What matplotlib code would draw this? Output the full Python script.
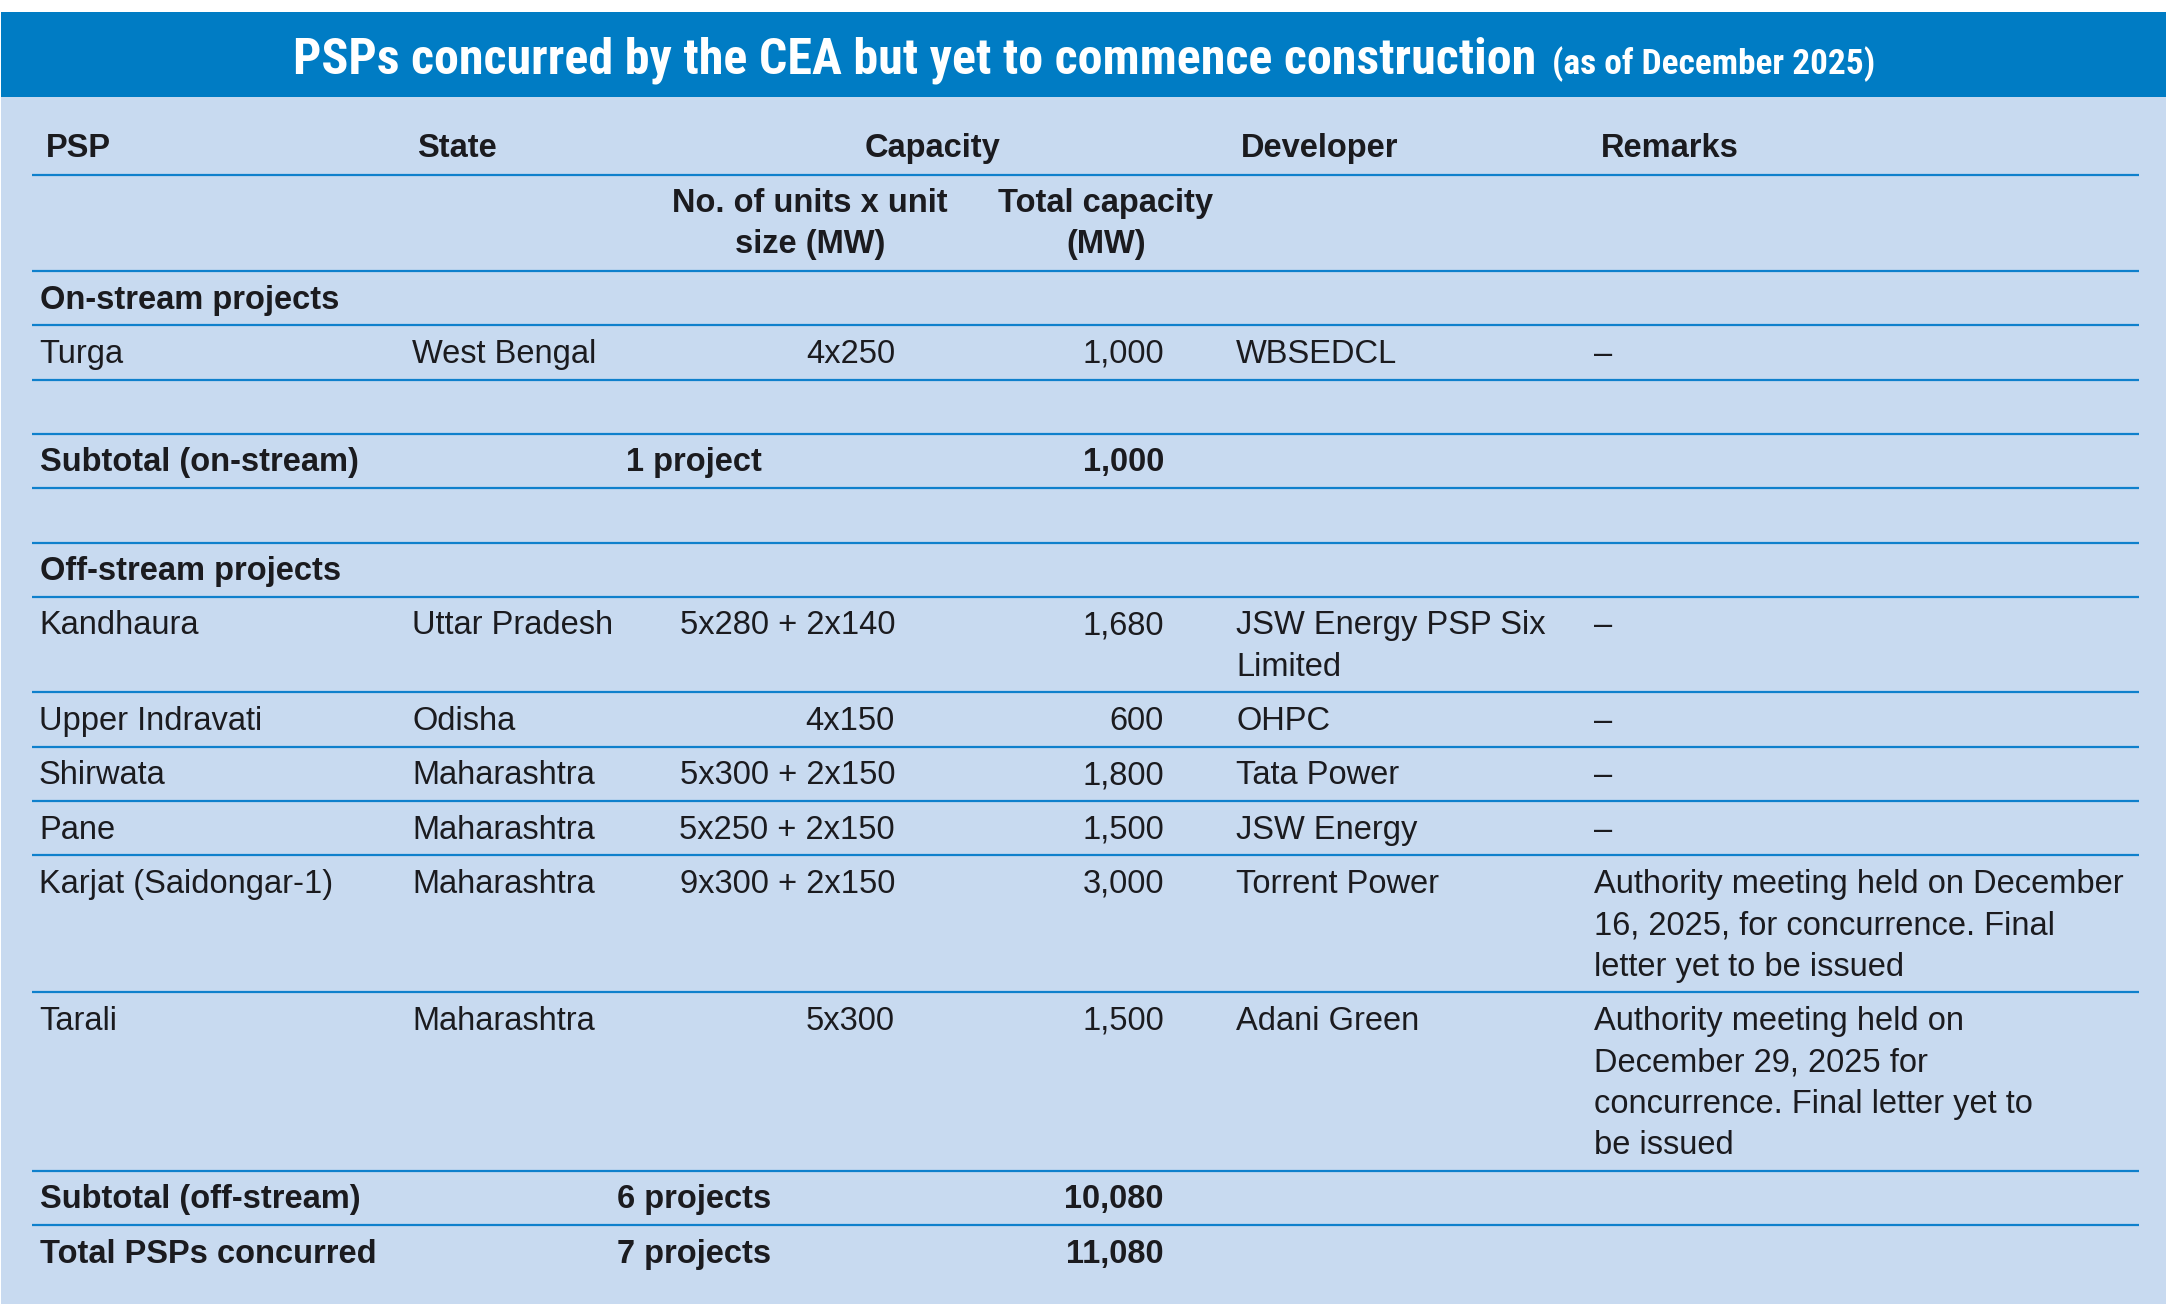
import matplotlib
matplotlib.use("Agg")
import matplotlib.pyplot as plt
from matplotlib import font_manager
from matplotlib.patches import Rectangle

title_main = "PSPs concurred by the CEA but yet to commence construction"
title_sub = "(as of December 2025)"

col_headers = ["PSP", "State", "Capacity", "Developer", "Remarks"]
cap_subheaders = ["No. of units x unit\nsize (MW)", "Total capacity\n(MW)"]

on_psp = ["Turga"]
on_state = ["West Bengal"]
on_units = ["4x250"]
on_mw = [1000]
on_dev = ["WBSEDCL"]
on_remarks = ["–"]

off_psp = ["Kandhaura", "Upper Indravati", "Shirwata", "Pane", "Karjat (Saidongar-1)", "Tarali"]
off_state = ["Uttar Pradesh", "Odisha", "Maharashtra", "Maharashtra", "Maharashtra", "Maharashtra"]
off_units = ["5x280 + 2x140", "4x150", "5x300 + 2x150", "5x250 + 2x150", "9x300 + 2x150", "5x300"]
off_mw = [1680, 600, 1800, 1500, 3000, 1500]
off_dev = ["JSW Energy PSP Six\nLimited", "OHPC", "Tata Power", "JSW Energy", "Torrent Power", "Adani Green"]
off_remarks = ["–", "–", "–", "–",
               "Authority meeting held on December\n16, 2025, for concurrence. Final\nletter yet to be issued",
               "Authority meeting held on\nDecember 29, 2025 for\nconcurrence. Final letter yet to\nbe issued"]

# ---- style ----
band_col = "#007cc4"
panel_col = "#c8daf0"
rule_col = "#0f80cc"
ink = "#1b1b1f"
body_font = "Liberation Sans"
fs = 23.5

installed = {f.name for f in font_manager.fontManager.ttflist}
narrow = next((f for f in ["Liberation Sans Narrow", "Roboto Condensed", "DejaVu Sans Condensed"]
               if f in installed), "Liberation Sans")

W, H = 2168, 1308
fig = plt.figure(figsize=(W / 100, H / 100), dpi=100)
ax = fig.add_axes([0, 0, 1, 1])
ax.set_xlim(0, W)
ax.set_ylim(H, 0)
ax.axis("off")

ax.add_patch(Rectangle((1, 12), 2165, 85, color=band_col, lw=0))
ax.add_patch(Rectangle((1, 97), 2165, 1207, color=panel_col, lw=0))

# title, centred as a whole
t1 = ax.text(0, 74, title_main, color="white", fontsize=36, fontweight="bold",
             family=narrow, va="baseline", ha="left")
t2 = ax.text(0, 74, title_sub, color="white", fontsize=25.5, fontweight="bold",
             family=narrow, va="baseline", ha="left")
fig.canvas.draw()
r = fig.canvas.get_renderer()
w1 = t1.get_window_extent(r).width
w2 = t2.get_window_extent(r).width
gap = 16
x0 = W / 2 - (w1 + gap + w2) / 2
t1.set_x(x0)
t2.set_x(x0 + w1 + gap)

# column anchors
x_psp, x_state, x_units_r, x_mw_r, x_dev, x_rem = 39, 412, 895, 1164, 1236, 1594
x_units_c, x_mw_c, x_cap_c, x_count_c = 810, 1106, 933, 694
line_x0, line_x1 = 32, 2139
row_h, line_h, base_off = 54.3, 41.4, 37.5


def txt(x, y, s, ha="left", bold=False):
    # one text per line so every line sits on its own baseline
    for j, part in enumerate(s.split("\n")):
        ax.text(x, y + j * line_h, part, fontsize=fs, family=body_font, color=ink,
                fontweight="bold" if bold else "normal", ha=ha, va="baseline")


# header rows
hx = [46, 417, x_cap_c, 1241, 1601]
for x, s in zip(hx, col_headers):
    txt(x, 157, s, ha="center" if s == "Capacity" else "left", bold=True)
ax.hlines(175, line_x0, line_x1, color=rule_col, lw=1.6)
txt(x_units_c, 212, cap_subheaders[0], ha="center", bold=True)
txt(x_mw_c, 212, cap_subheaders[1], ha="center", bold=True)

# body rows: (kind, payload)
rows = [("section", "On-stream projects")]
for i in range(len(on_psp)):
    rows.append(("data", (on_psp[i], on_state[i], on_units[i], on_mw[i], on_dev[i], on_remarks[i])))
rows.append(("blank", None))
rows.append(("total", ("Subtotal (on-stream)", f"{len(on_psp)} project", sum(on_mw))))
rows.append(("blank", None))
rows.append(("section", "Off-stream projects"))
for i in range(len(off_psp)):
    rows.append(("data", (off_psp[i], off_state[i], off_units[i], off_mw[i], off_dev[i], off_remarks[i])))
rows.append(("total", ("Subtotal (off-stream)", f"{len(off_psp)} projects", sum(off_mw))))
rows.append(("total", ("Total PSPs concurred", f"{len(on_psp) + len(off_psp)} projects",
                       sum(on_mw) + sum(off_mw))))

top = 271
ax.hlines(top, line_x0, line_x1, color=rule_col, lw=1.6)
for k, (kind, p) in enumerate(rows):
    y = top + base_off
    n = 1
    if kind == "section":
        txt(x_psp + 1, y, p, bold=True)
    elif kind == "data":
        psp, st, un, mw, dev, rem = p
        n = max(dev.count("\n"), rem.count("\n")) + 1
        txt(x_psp, y, psp)
        txt(x_state, y, st)
        txt(x_units_r, y, un, ha="right")
        txt(x_mw_r, y, f"{mw:,}", ha="right")
        txt(x_dev, y, dev)
        txt(x_rem, y, rem)
    elif kind == "total":
        label, count, mw = p
        txt(x_psp + 1, y, label, bold=True)
        txt(x_count_c, y, count, ha="center", bold=True)
        txt(x_mw_r, y, f"{mw:,}", ha="right", bold=True)
    top = top + row_h + line_h * (n - 1)
    if k < len(rows) - 1:
        ax.hlines(top, line_x0, line_x1, color=rule_col, lw=1.6)

fig.savefig("out.png", dpi=100, facecolor="white")
